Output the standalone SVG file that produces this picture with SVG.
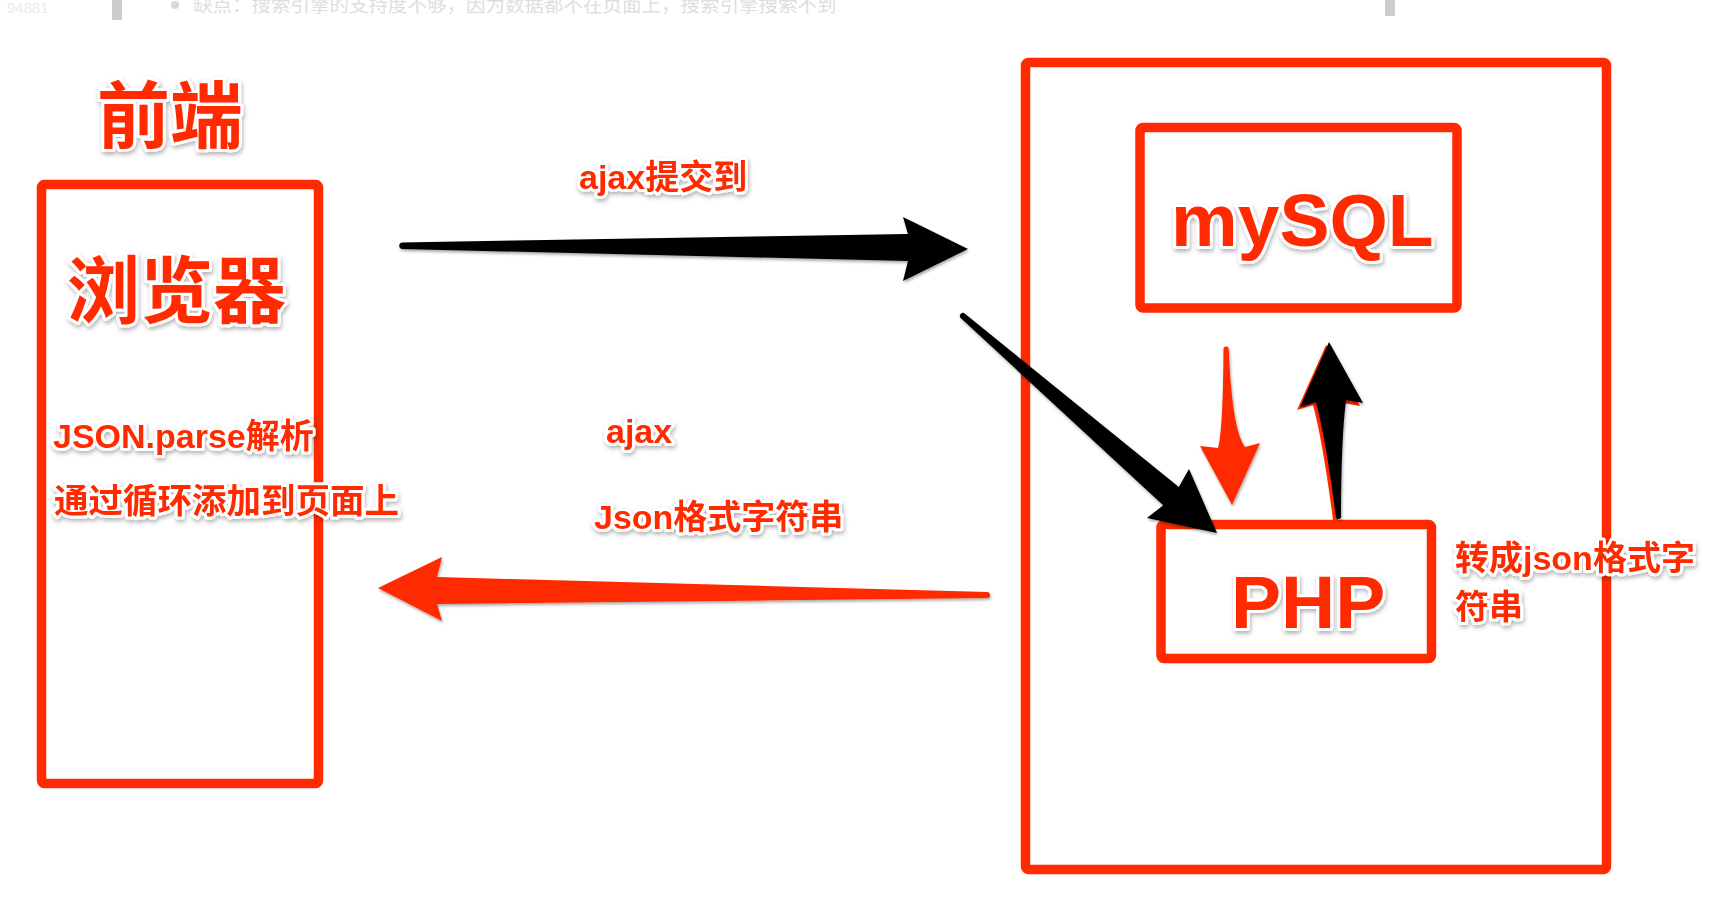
<svg xmlns="http://www.w3.org/2000/svg" width="1713" height="910" viewBox="0 0 1713 910">
<defs>
<style>
.lbl{font-family:"Liberation Sans","Noto Sans CJK SC",sans-serif;font-weight:bold;fill:#ff2a00;stroke:#ffffff;stroke-width:6;stroke-linejoin:round;paint-order:stroke;filter:url(#tshadow);}
.box{fill:none;stroke:#ff2a00;stroke-width:9.5;stroke-linejoin:round;}
.faint{font-family:"Noto Sans CJK SC","Liberation Sans",sans-serif;fill:#dedede;}
.arrowK{fill:#000000;filter:url(#ashadow);}
.arrowR{fill:#ff2a00;filter:url(#ashadow);}
</style>
<filter id="tshadow" x="-10%" y="-30%" width="120%" height="170%">
<feDropShadow dx="1" dy="2.5" stdDeviation="2" flood-color="#000" flood-opacity="0.3"/>
</filter>
<filter id="ashadow" x="-10%" y="-20%" width="120%" height="140%">
<feDropShadow dx="1" dy="2" stdDeviation="1.5" flood-color="#000" flood-opacity="0.35"/>
</filter>
</defs>
<rect width="1713" height="910" fill="#ffffff"/>

<g id="page-strip">
<text class="faint" x="7" y="13" font-size="15" style="fill:#ebebeb;font-family:'Liberation Sans',sans-serif">94881</text>
<rect x="112" y="0" width="10" height="20" fill="#cccccc"/>
<circle cx="175" cy="5" r="4" fill="#d8d8d8"/>
<text class="faint" x="193" y="11.5" font-size="19.5">缺点：搜索引擎的支持度不够，因为数据都不在页面上，搜索引擎搜索不到</text>
<rect x="1385" y="0" width="10" height="16" fill="#cccccc"/>
</g>

<g id="frontend">
<text class="lbl" x="97" y="142" font-size="73">前端</text>
<rect class="box" x="41.5" y="184.5" width="277" height="599" rx="3"/>
<text class="lbl" x="67" y="317" font-size="73">浏览器</text>
<text class="lbl" x="53" y="448" font-size="34">JSON.parse解析</text>
<text class="lbl" x="54" y="513" font-size="34.5">通过循环添加到页面上</text>
</g>

<g id="server">
<rect class="box" x="1025.5" y="62.5" width="581" height="807" rx="3"/>
</g>

<g id="mysql">
<rect class="box" x="1140" y="127.5" width="317" height="180.5" rx="3"/>
<text class="lbl" x="1171" y="246" font-size="75">mySQL</text>
</g>

<g id="php">
<rect class="box" x="1161" y="524.5" width="270.5" height="134" rx="3"/>
<text class="lbl" x="1231" y="628" font-size="75">PHP</text>
</g>

<g id="php-note">
<text class="lbl" x="1455" y="570" font-size="34">转成json格式字</text>
<text class="lbl" x="1455" y="619" font-size="34">符串</text>
</g>

<g id="edge-labels">
<text class="lbl" x="579" y="189" font-size="34">ajax提交到</text>
<text class="lbl" x="606" y="443" font-size="34">ajax</text>
<text class="lbl" x="594" y="529" font-size="34">Json格式字符串</text>
</g>

<g id="connectors">
<path class="arrowK" d="M402 242.5 L908 234 L903 217 L968 249 L903 281 L908 261 L402 249 A3.3 3.3 0 0 1 402 242.5 Z"/>
<path class="arrowK" d="M964.9 313.7 L1178.8 487 L1189 469 L1217 533 L1147 518 L1163.2 505.2 L961 318.3 A3 3 0 0 1 964.9 313.7 Z"/>
<path class="arrowR" d="M1223.5 349 A2.6 2.6 0 0 1 1228.7 349 Q1232 430 1245 447 L1260 443 L1232 505 L1200 446 L1218 448 Q1223 430 1223.5 349 Z"/>
<path fill="#ff2a00" d="M1326 345 L1360 406 L1343 403 Q1338 443 1338 519 A2.5 2.5 0 0 1 1333 520 Q1323 443 1313 405 L1297 410 Z"/>
<path class="arrowK" d="M1329 342 L1363 403 L1346 400 Q1341 440 1341 516 A2.5 2.5 0 0 1 1336 517 Q1326 440 1316 402 L1300 407 Z"/>
<path class="arrowR" d="M378 588 L442 557 L437 577 L987 592 A3 3 0 0 1 987 598 L437 604 L442 621 Z"/>
</g>
</svg>
